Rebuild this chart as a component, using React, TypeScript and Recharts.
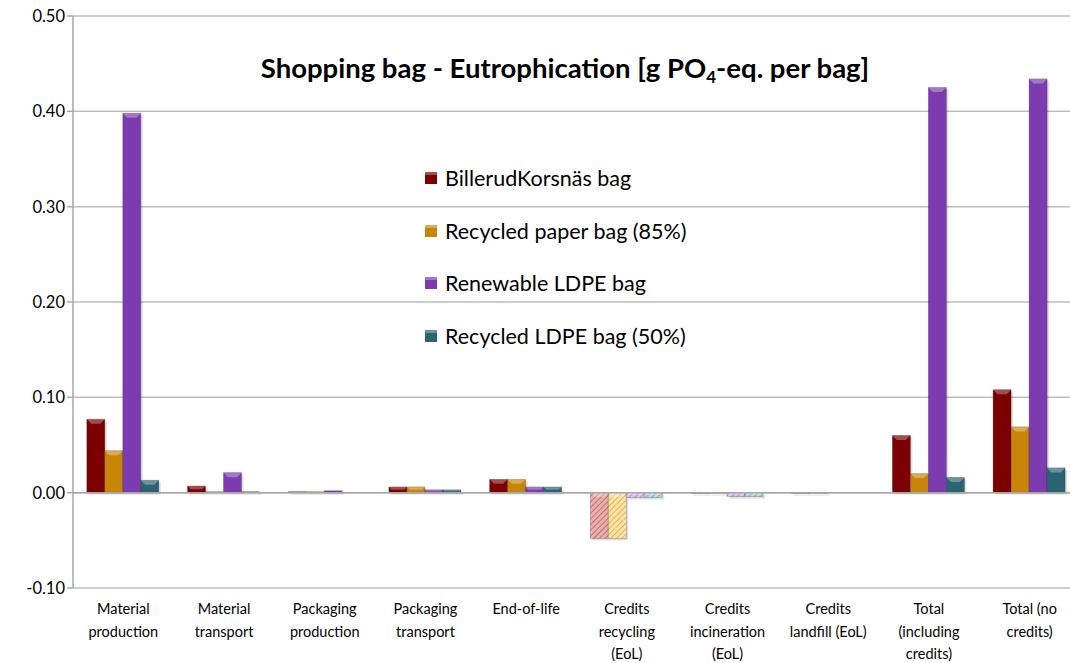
import React from 'react';
import { BarChart, Bar, XAxis, YAxis, CartesianGrid, Legend, ReferenceLine, Cell } from 'recharts';

const categories = [
  'Material\nproduction',
  'Material\ntransport',
  'Packaging\nproduction',
  'Packaging\ntransport',
  'End-of-life',
  'Credits\nrecycling\n(EoL)',
  'Credits\nincineration\n(EoL)',
  'Credits\nlandfill (EoL)',
  'Total\n(including\ncredits)',
  'Total (no\ncredits)',
];

const billerudBag = [0.077, 0.007, 0.001, 0.006, 0.014, -0.048, -0.001, -0.001, 0.06, 0.108];
const recycledPaperBag = [0.044, 0.001, 0.001, 0.006, 0.014, -0.048, -0.001, -0.001, 0.02, 0.069];
const renewableLdpeBag = [0.398, 0.021, 0.002, 0.003, 0.006, -0.005, -0.004, 0, 0.425, 0.434];
const recycledLdpeBag = [0.013, 0.001, 0, 0.003, 0.006, -0.005, -0.004, 0, 0.016, 0.026];

const yTicks = [-0.1, 0, 0.1, 0.2, 0.3, 0.4, 0.5];

const series = [
  { key: 'billerud', name: 'BillerudKorsnäs bag', values: billerudBag, color: '#7c0000', pale: '#eab0b0', stripe: '#b85a5a' },
  { key: 'recPaper', name: 'Recycled paper bag (85%)', values: recycledPaperBag, color: '#c9840a', pale: '#fbe3a8', stripe: '#d9a94c' },
  { key: 'renewable', name: 'Renewable LDPE bag', values: renewableLdpeBag, color: '#7d3bb0', pale: '#ddc4f2', stripe: '#a57ccc' },
  { key: 'recLdpe', name: 'Recycled LDPE bag (50%)', values: recycledLdpeBag, color: '#2c6373', pale: '#b8dbe2', stripe: '#7aa6b0' },
];

const data = categories.map((c, i) => {
  const row: Record<string, string | number> = { category: c };
  series.forEach((s) => {
    row[s.key] = s.values[i];
  });
  return row;
});

const FONT = 'Lato, "Open Sans", sans-serif';

// bar with a small bevel on top, roughly like the excel 3d look
function BevelBar(props: any) {
  const { x, y, width, height, fill } = props;
  if (width == null || height == null) return null;
  const top = Math.min(y, y + height);
  const h = Math.abs(height);
  if (h <= 0) return null;
  const b = Math.min(6, h / 2, width / 4);
  return (
    <g>
      <rect x={x + 2} y={top + 2} width={width} height={h} fill="rgba(0,0,0,0.12)" />
      <rect x={x} y={top} width={width} height={h} fill={fill} stroke="rgba(0,0,0,0.25)" strokeWidth={0.8} />
      {h > 2 && (
        <polygon
          points={`${x},${top} ${x + width},${top} ${x + width - b},${top + b} ${x + b},${top + b}`}
          fill="rgba(255,255,255,0.3)"
        />
      )}
    </g>
  );
}

function CategoryTick(props: any) {
  const { x, y, payload } = props;
  const lines = String(payload.value).split('\n');
  return (
    <text x={x} y={y} textAnchor="middle" fontFamily={FONT} fontSize={14.5} fill="#000">
      {lines.map((l, i) => (
        <tspan key={i} x={x} dy={i === 0 ? 18 : 22.5}>
          {l}
        </tspan>
      ))}
    </text>
  );
}

function LegendList() {
  return (
    <div style={{ fontFamily: FONT, fontSize: 21.5, color: '#000', textAlign: 'left' }}>
      {series.map((s) => (
        <div key={s.key} style={{ display: 'flex', alignItems: 'center', height: 52.5 }}>
          <span
            style={{
              display: 'inline-block',
              width: 12,
              height: 12,
              background: s.color,
              marginRight: 8,
              boxShadow: 'inset 0 3px 0 rgba(255,255,255,0.3)',
            }}
          />
          {s.name}
        </div>
      ))}
    </div>
  );
}

export default function App() {
  return (
    <div style={{ position: 'absolute', left: 0, top: 0, width: 1070, height: 663, overflow: 'hidden', background: '#fff' }}>
      <BarChart
        width={1085}
        height={663}
        data={data}
        margin={{ top: 16, right: 5, bottom: 0, left: 0 }}
        barCategoryGap="13.7%"
        barGap={0}
      >
        <defs>
          {series.map((s) => (
            <pattern key={s.key} id={`hatch-${s.key}`} width={4} height={4} patternUnits="userSpaceOnUse" patternTransform="rotate(45)">
              <rect width={4} height={4} fill={s.pale} />
              <line x1={0} y1={0} x2={0} y2={4} stroke={s.stripe} strokeWidth={1.6} />
            </pattern>
          ))}
        </defs>
        <CartesianGrid vertical={false} stroke="#bdbdbd" strokeWidth={1.5} />
        <XAxis
          dataKey="category"
          interval={0}
          axisLine={false}
          tickLine={false}
          height={75}
          tick={<CategoryTick />}
        />
        <YAxis
          domain={[-0.1, 0.5]}
          ticks={yTicks}
          width={73}
          tickFormatter={(v: number) => v.toFixed(2)}
          axisLine={{ stroke: '#a6a6a6', strokeWidth: 1.5 }}
          tickLine={{ stroke: '#a6a6a6', strokeWidth: 1.5 }}
          tickSize={6}
          tick={{ fontFamily: FONT, fontSize: 16.5, fill: '#000' }}
          allowDataOverflow
        />
        <ReferenceLine y={0} stroke="#a6a6a6" strokeWidth={1.5} />
        <Legend
          layout="vertical"
          verticalAlign="middle"
          align="center"
          content={<LegendList />}
          wrapperStyle={{ left: 425, top: 152, width: 340 }}
        />
        {series.map((s) => (
          <Bar key={s.key} dataKey={s.key} name={s.name} fill={s.color} shape={<BevelBar />} isAnimationActive={false}>
            {s.values.map((v, i) => (
              <Cell key={i} fill={v < 0 ? `url(#hatch-${s.key})` : s.color} />
            ))}
          </Bar>
        ))}
      </BarChart>
      <div
        style={{
          position: 'absolute',
          left: 0,
          width: 1130,
          top: 51,
          textAlign: 'center',
          fontFamily: FONT,
          fontWeight: 'bold',
          fontSize: 27.5,
          color: '#000',
        }}
      >
        Shopping bag - Eutrophication [g PO<sub style={{ fontSize: 17, verticalAlign: '-5px' }}>4</sub>-eq. per bag]
      </div>
    </div>
  );
}
